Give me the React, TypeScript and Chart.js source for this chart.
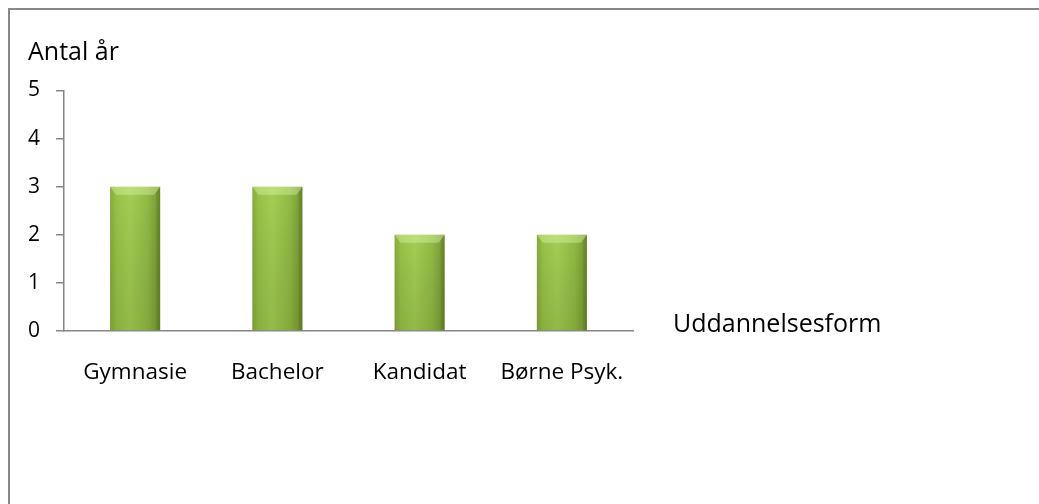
import React, { useEffect, useRef } from "react";
import { Chart, registerables } from "chart.js";

Chart.register(...registerables);

const categories = ["Gymnasie", "Bachelor", "Kandidat", "Børne Psyk."];
const years = [3, 3, 2, 2];
const yTicks = [0, 1, 2, 3, 4, 5];
const yTitle = "Antal år";
const xTitle = "Uddannelsesform";

const FONT = "'Open Sans', sans-serif";
const AXIS = "#868686";
const BAR_PCT = 0.352;

const barFill = (c: any) => {
  const chart = c.chart;
  const xs = chart.scales?.x;
  if (!xs || c.dataIndex === undefined) return "#94c046";
  const cx = xs.getPixelForValue(c.dataIndex);
  const w = (xs.width / categories.length) * BAR_PCT;
  const x0 = cx - w / 2;
  const x1 = cx + w / 2;
  if (!isFinite(x0) || !isFinite(x1)) return "#94c046";
  const g = chart.ctx.createLinearGradient(x0, 0, x1, 0);
  g.addColorStop(0, "#86aa3c");
  g.addColorStop(0.12, "#97c348");
  g.addColorStop(0.4, "#a4cf54");
  g.addColorStop(0.75, "#92bb45");
  g.addColorStop(0.92, "#7ea239");
  g.addColorStop(1, "#6c8c2d");
  return g;
};

const barShade = {
  id: "barShade",
  afterDatasetsDraw(chart: any) {
    const ctx = chart.ctx;
    chart.getDatasetMeta(0).data.forEach((bar: any) => {
      const x0 = bar.x - bar.width / 2;
      const x1 = bar.x + bar.width / 2;
      const top = bar.y;
      const bottom = bar.base;
      ctx.save();
      const v = ctx.createLinearGradient(0, top, 0, bottom);
      v.addColorStop(0, "rgba(0,0,0,0)");
      v.addColorStop(1, "rgba(40,60,0,0.14)");
      ctx.fillStyle = v;
      ctx.fillRect(x0, top, x1 - x0, bottom - top);
      ctx.beginPath();
      ctx.moveTo(x0, top);
      ctx.lineTo(x1, top);
      ctx.lineTo(x1 - 6, top + 8);
      ctx.lineTo(x0 + 6, top + 8);
      ctx.closePath();
      ctx.fillStyle = "rgba(225,248,180,0.4)";
      ctx.fill();
      ctx.beginPath();
      ctx.moveTo(x1, top);
      ctx.lineTo(x1, bottom);
      ctx.lineTo(x1 - 4, bottom);
      ctx.lineTo(x1 - 4, top + 6);
      ctx.closePath();
      ctx.fillStyle = "rgba(50,70,10,0.12)";
      ctx.fill();
      ctx.restore();
    });
  },
};

const titles = {
  id: "titles",
  afterDraw(chart: any) {
    const ctx = chart.ctx;
    const area = chart.chartArea;
    ctx.save();
    ctx.fillStyle = "#000";
    ctx.font = `25px ${FONT}`;
    ctx.textBaseline = "alphabetic";
    ctx.textAlign = "left";
    ctx.fillText(yTitle, 18, 50);
    ctx.fillText(xTitle, area.right + 40, area.bottom + 1);
    ctx.restore();
  },
};

export default function App() {
  const ref = useRef<HTMLCanvasElement>(null);
  useEffect(() => {
    if (!ref.current) return;
    const chart = new Chart(ref.current, {
      type: "bar",
      data: {
        labels: categories,
        datasets: [
          {
            data: years,
            backgroundColor: barFill,
            borderWidth: 0,
            barPercentage: BAR_PCT,
            categoryPercentage: 1,
          },
        ],
      },
      options: {
        animation: false,
        responsive: false,
        maintainAspectRatio: false,
        layout: { padding: { left: 8, right: 406, top: 80.5, bottom: 113 } },
        plugins: {
          legend: { display: false },
          tooltip: { enabled: false },
          title: { display: false },
        },
        scales: {
          x: {
            grid: { display: false, drawTicks: false },
            border: { display: true, color: AXIS, width: 1.5 },
            ticks: {
              color: "#000",
              font: { family: FONT, size: 22.5 },
              padding: 28,
              maxRotation: 0,
              autoSkip: false,
            },
            afterFit: (s: any) => {
              s.height = 60;
            },
          },
          y: {
            min: 0,
            max: 5,
            afterBuildTicks: (s: any) => {
              s.ticks = yTicks.map((v) => ({ value: v }));
            },
            grid: {
              drawOnChartArea: false,
              drawTicks: true,
              tickLength: 8,
              color: AXIS,
              lineWidth: 1.5,
            },
            border: { display: true, color: AXIS, width: 1.5 },
            ticks: {
              color: "#000",
              font: { family: FONT, size: 21 },
              padding: 16,
            },
            afterFit: (s: any) => {
              s.width = 46;
            },
          },
        },
      },
      plugins: [barShade, titles],
    });
    return () => chart.destroy();
  }, []);

  return (
    <div
      style={{
        position: "fixed",
        left: 8,
        top: 8,
        right: 0,
        bottom: 0,
        borderTop: "2px solid #888888",
        borderLeft: "2px solid #888888",
        background: "#fff",
      }}
    >
      <canvas
        ref={ref}
        width={1029}
        height={494}
        style={{ display: "block", width: 1029, height: 494 }}
      />
    </div>
  );
}
